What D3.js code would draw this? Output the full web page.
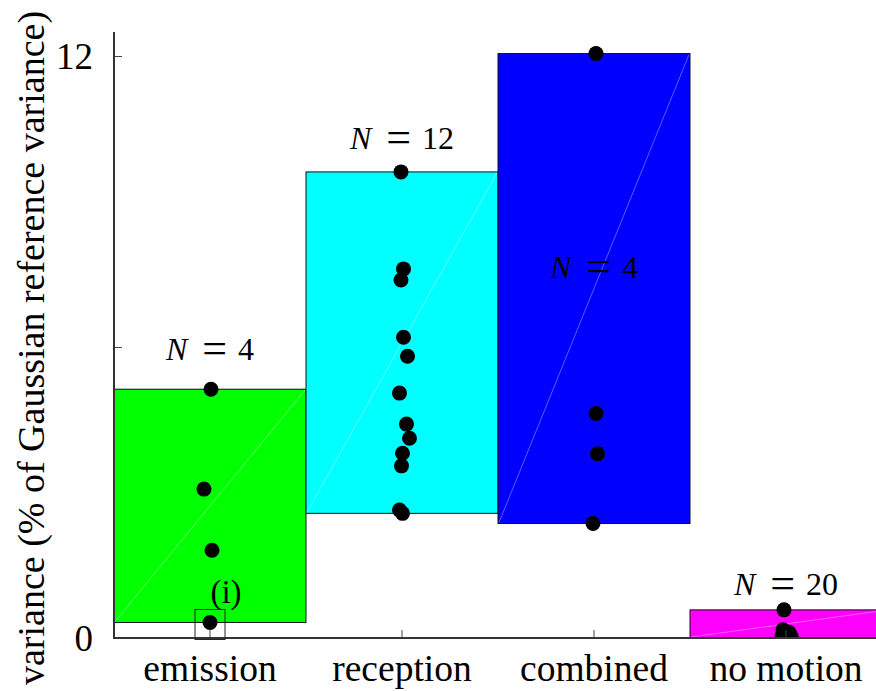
<!DOCTYPE html>
<html>
<head>
<meta charset="utf-8">
<script src="https://cdn.jsdelivr.net/npm/d3@7"></script>
<style>
  @font-face { font-family: "FigSerif"; font-style: normal;
    src: local("Liberation Serif"), local("LiberationSerif"), local("LiberationSerif-Regular"), local("Times New Roman"); }
  @font-face { font-family: "FigSerif"; font-style: italic;
    src: local("Liberation Serif Italic"), local("LiberationSerif-Italic"), local("Times New Roman Italic"); }
  svg text { font-family: "Liberation Serif", "FigSerif", "Times New Roman", Tinos; }
</style>
</head>
<body style="margin:0">
<svg id="fig" width="876" height="691" font-family="Liberation Serif"></svg>
<script>
// Categories and their fill colours
const categories = ["emission", "reception", "combined", "no motion"];
const colors = ["#00ff00", "#00ffff", "#0000ff", "#ff00ff"];

// Variance of each run (% of Gaussian reference variance)
const emission = [5.13, 3.07, 1.81, 0.32];
const reception = [9.61, 7.61, 7.38, 6.20, 5.81, 5.05, 4.41, 4.12, 3.81, 3.55, 2.64, 2.57];
const combined = [12.05, 4.63, 3.80, 2.36];
const noMotion = [0.58, 0.17, 0.12, 0.09, 0.07, 0.06, 0.05, 0.04, 0.03, 0.03,
                  0.02, 0.02, 0.02, 0.01, 0.01, 0.01, 0.00, 0.00, 0.00, 0.00];
const seriesValues = [emission, reception, combined, noMotion];

// Small horizontal spread of the dots (px) so overlapping runs stay visible
const jitterEmission = [1, -6, 2, 0];
const jitterReception = [-1, 1.5, -1, 1.5, 5.5, -2.5, 4.5, 7.5, 0.5, -0.5, -2.5, 0.5];
const jitterCombined = [2, 2, 3.5, -1];
const jitterNoMotion = [-2, -3, 3, 0, 4, -1, 2, -4, 1, 5, -2, 3, 0, -3, 2, 4, -1, 1, 3, -2];
const jitters = [jitterEmission, jitterReception, jitterCombined, jitterNoMotion];

// Run counts and where each count annotation sits (in variance units)
const counts = [4, 12, 4, 20];
const countLabelAt = [5.95, 10.3, 7.65, 1.12];

// Axis ticks
const yTickValues = [0, 6, 12];
const yTickLabels = ["0", "", "12"];

const svg = d3.select("#fig");
const x0 = 114, x1 = 882, yBottom = 638, yTop = 56;

const x = d3.scaleBand().domain(categories).range([x0, x1]).padding(0);
const y = d3.scaleLinear().domain([0, 12]).range([yBottom, yTop]);

svg.append("defs").append("clipPath").attr("id", "plot-clip")
  .append("rect").attr("x", x0).attr("y", 0).attr("width", 876 - x0).attr("height", yBottom);

const plot = svg.append("g").attr("clip-path", "url(#plot-clip)");

// Floating bars spanning the range of each group
const groups = categories.map((c, i) => {
  const vals = seriesValues[i];
  return { cat: c, color: colors[i], lo: d3.min(vals), hi: d3.max(vals), vals, jit: jitters[i] };
});

plot.selectAll("rect.bar").data(groups).join("rect")
  .attr("class", "bar")
  .attr("x", d => x(d.cat))
  .attr("y", d => y(d.hi))
  .attr("width", x.bandwidth())
  .attr("height", d => y(d.lo) - y(d.hi))
  .attr("fill", d => d.color)
  .attr("stroke", "#111")
  .attr("stroke-width", 1);

// faint diagonal seam across each bar
plot.selectAll("line.seam").data(groups).join("line")
  .attr("class", "seam")
  .attr("x1", d => x(d.cat) + 1)
  .attr("y1", d => y(d.lo) - 1)
  .attr("x2", d => x(d.cat) + x.bandwidth() - 1)
  .attr("y2", d => y(d.hi) + 1)
  .attr("stroke", "rgba(255,255,255,0.45)")
  .attr("stroke-width", 0.8);

// Axes
const yAxis = d3.axisRight(y).tickValues(yTickValues).tickSize(8).tickFormat("");
const gy = svg.append("g").attr("transform", `translate(${x0},0)`).call(yAxis);
gy.select(".domain").remove();
gy.selectAll(".tick line").attr("stroke", "#444").attr("stroke-width", 1);

const xAxis = d3.axisTop(x).tickSize(8).tickFormat("");
const gx = svg.append("g").attr("transform", `translate(0,${yBottom})`).call(xAxis);
gx.select(".domain").remove();
gx.selectAll(".tick line").attr("stroke", "#444").attr("stroke-width", 1);

svg.append("line").attr("x1", x0).attr("x2", x0).attr("y1", 32).attr("y2", yBottom + 1)
  .attr("stroke", "#333").attr("stroke-width", 2);
svg.append("line").attr("x1", x0 - 1).attr("x2", 876).attr("y1", yBottom).attr("y2", yBottom)
  .attr("stroke", "#333").attr("stroke-width", 2);

// All text goes into one layer so the face is set in one place
const labels = svg.append("g").attr("class", "labels").attr("font-family", "Liberation Serif");

// Y tick labels
labels.selectAll("text.ytick").data(yTickValues).join("text")
  .attr("class", "ytick")
  .attr("x", 93)
  .attr("y", d => y(d) + 13)
  .attr("text-anchor", "end")
  .attr("font-size", 37)
  .text((d, i) => yTickLabels[i]);

// Category labels
labels.selectAll("text.cat").data(categories).join("text")
  .attr("class", "cat")
  .attr("x", d => x(d) + x.bandwidth() / 2)
  .attr("y", 681)
  .attr("text-anchor", "middle")
  .attr("font-size", 37.5)
  .text(d => d);

// Y axis title
labels.append("text")
  .attr("transform", `translate(44,${348}) rotate(-90)`)
  .attr("text-anchor", "middle")
  .attr("font-size", 38)
  .text("variance (% of Gaussian reference variance)");

// Dots for the individual runs
const dots = groups.flatMap(g => g.vals.map((v, j) => ({ cat: g.cat, v, dx: g.jit[j] })));
plot.selectAll("circle.run").data(dots).join("circle")
  .attr("class", "run")
  .attr("cx", d => x(d.cat) + x.bandwidth() / 2 + d.dx)
  .attr("cy", d => y(d.v))
  .attr("r", 7.5)
  .attr("fill", "#000");

// Count annotations "N = n"
const ann = labels.selectAll("text.count").data(categories).join("text")
  .attr("class", "count")
  .attr("x", d => x(d) + x.bandwidth() / 2)
  .attr("y", (d, i) => y(countLabelAt[i]) + 11)
  .attr("text-anchor", "middle")
  .attr("font-size", 32);
ann.append("tspan").attr("font-style", "italic").text("N");
ann.append("tspan").attr("dx", 15).attr("font-size", 44).attr("dy", 3).text("=");
ann.append("tspan").attr("dx", 11).attr("dy", -3).text((d, i) => counts[i]);

// Marker for run (i): the lowest emission run
const markVal = d3.min(emission);
const mx = x("emission") + x.bandwidth() / 2 + jitterEmission[emission.indexOf(markVal)];
const my = y(markVal);
svg.append("rect")
  .attr("x", mx - 15).attr("y", my - 13)
  .attr("width", 30).attr("height", 30)
  .attr("fill", "none").attr("stroke", "#222").attr("stroke-width", 1);
labels.append("text")
  .attr("x", mx + 16).attr("y", my - 19)
  .attr("text-anchor", "middle")
  .attr("font-size", 33)
  .text("(i)");

labels.selectAll("text").attr("font-family", "Liberation Serif").attr("fill", "#000");
</script>
</body>
</html>
